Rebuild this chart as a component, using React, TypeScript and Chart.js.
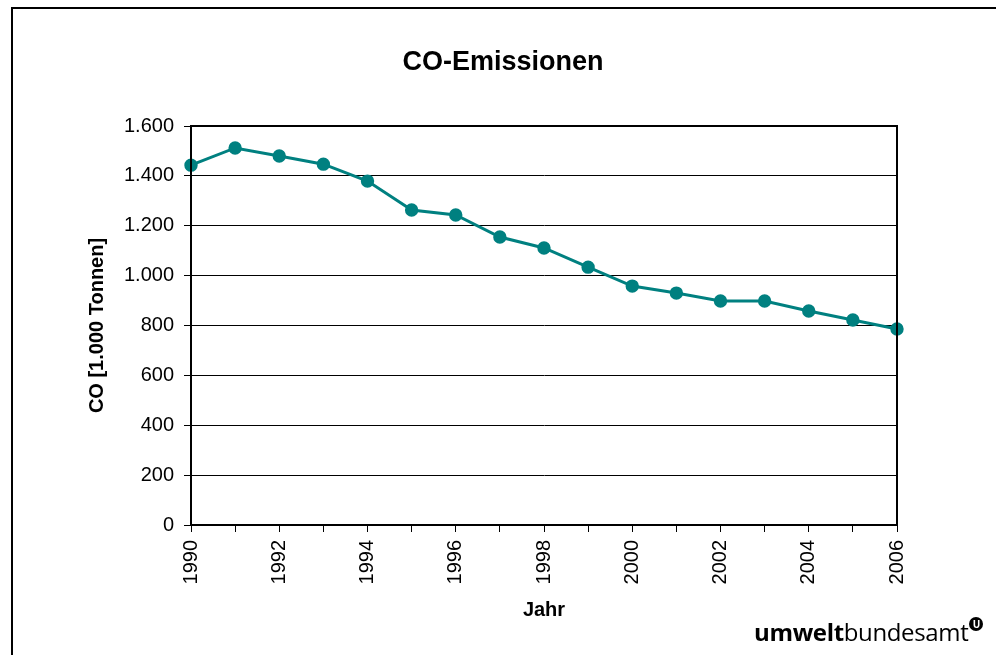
import React, { useEffect, useRef } from "react";
import { Chart, registerables } from "chart.js";

Chart.register(...registerables);

const years: string[] = [
  "1990", "1991", "1992", "1993", "1994", "1995", "1996", "1997", "1998",
  "1999", "2000", "2001", "2002", "2003", "2004", "2005", "2006",
];
const coEmissions: number[] = [
  1443, 1512, 1480, 1447, 1379, 1263, 1243, 1155, 1111,
  1034, 958, 930, 898, 898, 858, 822, 786,
];
const chartTitle = "CO-Emissionen";
const yAxisTitle = "CO [1.000 Tonnen]";
const xAxisTitle = "Jahr";

const FONT = 'Arial, "Liberation Sans", sans-serif';

function formatDe(v: number): string {
  const s = Math.round(v).toString();
  return s.replace(/\B(?=(\d{3})+(?!\d))/g, ".");
}

const framePlugin = {
  id: "frame",
  afterDraw(chart: any) {
    const { ctx, chartArea } = chart;
    ctx.save();
    ctx.strokeStyle = "#000";
    ctx.lineWidth = 2;
    ctx.strokeRect(chartArea.left, chartArea.top, chartArea.right - chartArea.left, chartArea.bottom - chartArea.top);
    ctx.restore();
  },
};

// Title centred across the whole framed canvas (not just the padded box)
const centeredTitlePlugin = {
  id: "centeredTitle",
  afterDraw(chart: any) {
    const { ctx, width } = chart;
    ctx.save();
    ctx.fillStyle = "#000";
    ctx.font = `bold 27px ${FONT}`;
    ctx.textAlign = "center";
    ctx.textBaseline = "middle";
    ctx.fillText(chartTitle, width / 2, 55);
    ctx.restore();
  },
};

export default function App() {
  const ref = useRef<HTMLCanvasElement | null>(null);

  useEffect(() => {
    if (!ref.current) return;
    Chart.defaults.font.family = FONT;
    Chart.defaults.color = "#000";
    const chart = new Chart(ref.current, {
      type: "line",
      data: {
        labels: years,
        datasets: [
          {
            data: coEmissions,
            borderColor: "#008080",
            backgroundColor: "#008080",
            borderWidth: 3,
            pointRadius: 5.2,
            pointHoverRadius: 5.2,
            pointBackgroundColor: "#008080",
            pointBorderColor: "#008080",
            tension: 0,
            clip: false as any,
          },
        ],
      },
      options: {
        animation: false,
        responsive: false,
        maintainAspectRatio: false,
        layout: { padding: { left: 69, right: 97, top: 118, bottom: 29 } },
        plugins: {
          legend: { display: false },
          tooltip: { enabled: false },
          title: { display: false },
        },
        scales: {
          x: {
            type: "category",
            offset: false,
            grid: {
              display: true,
              drawOnChartArea: false,
              drawTicks: true,
              tickLength: 7,
              color: "#000",
              lineWidth: 1,
            },
            border: { display: true, color: "#000", width: 2 },
            ticks: {
              autoSkip: false,
              maxRotation: 90,
              minRotation: 90,
              padding: 8,
              color: "#000",
              font: { family: FONT, size: 20 },
              callback: function (this: any, value: any, index: number) {
                const label = years[index];
                return parseInt(label, 10) % 2 === 0 ? label : "";
              },
            },
            title: {
              display: true,
              text: xAxisTitle,
              color: "#000",
              font: { family: FONT, size: 20, weight: "bold" },
              padding: { top: 4, bottom: 4 },
            },
            afterFit: (scale: any) => {
              scale.height = 101;
            },
          },
          y: {
            min: 0,
            max: 1600,
            grid: {
              color: "#000",
              lineWidth: 1,
              tickLength: 7,
            },
            border: { display: true, color: "#000", width: 2 },
            ticks: {
              stepSize: 200,
              padding: 10,
              color: "#000",
              font: { family: FONT, size: 20 },
              callback: (v: any) => formatDe(Number(v)),
            },
            title: {
              display: true,
              text: yAxisTitle,
              color: "#000",
              font: { family: FONT, size: 20, weight: "bold" },
              padding: { top: 4, bottom: 4 },
            },
            afterFit: (scale: any) => {
              scale.width = 110;
            },
          },
        },
      },
      plugins: [framePlugin, centeredTitlePlugin],
    });
    return () => chart.destroy();
  }, []);

  return (
    <div
      style={{
        position: "fixed",
        left: 0,
        top: 0,
        width: 996,
        height: 655,
        overflow: "hidden",
        background: "#fff",
      }}
    >
      <div
        style={{
          position: "absolute",
          left: 11,
          top: 7,
          width: 1100,
          height: 800,
          border: "2px solid #000",
          boxSizing: "border-box",
        }}
      />
      <canvas
        ref={ref}
        width={982}
        height={647}
        style={{ position: "absolute", left: 12, top: 8, width: 982, height: 647 }}
      />
      <div
        style={{
          position: "absolute",
          left: 754,
          top: 617,
          fontFamily: '"Open Sans", "Noto Sans", sans-serif',
          fontSize: 24,
          lineHeight: "29px",
          color: "#000",
          whiteSpace: "nowrap",
          letterSpacing: "-0.35px",
        }}
      >
        <span style={{ fontWeight: 700 }}>umwelt</span>
        <span style={{ fontWeight: 400 }}>bundesamt</span>
        <span
          style={{
            display: "inline-block",
            width: 14,
            height: 14,
            borderRadius: 7,
            background: "#000",
            color: "#fff",
            fontSize: 10,
            fontWeight: 700,
            lineHeight: "14px",
            letterSpacing: 0,
            textAlign: "center",
            verticalAlign: "top",
            marginLeft: 1,
            marginTop: 0,
          }}
        >
          U
        </span>
      </div>
    </div>
  );
}
